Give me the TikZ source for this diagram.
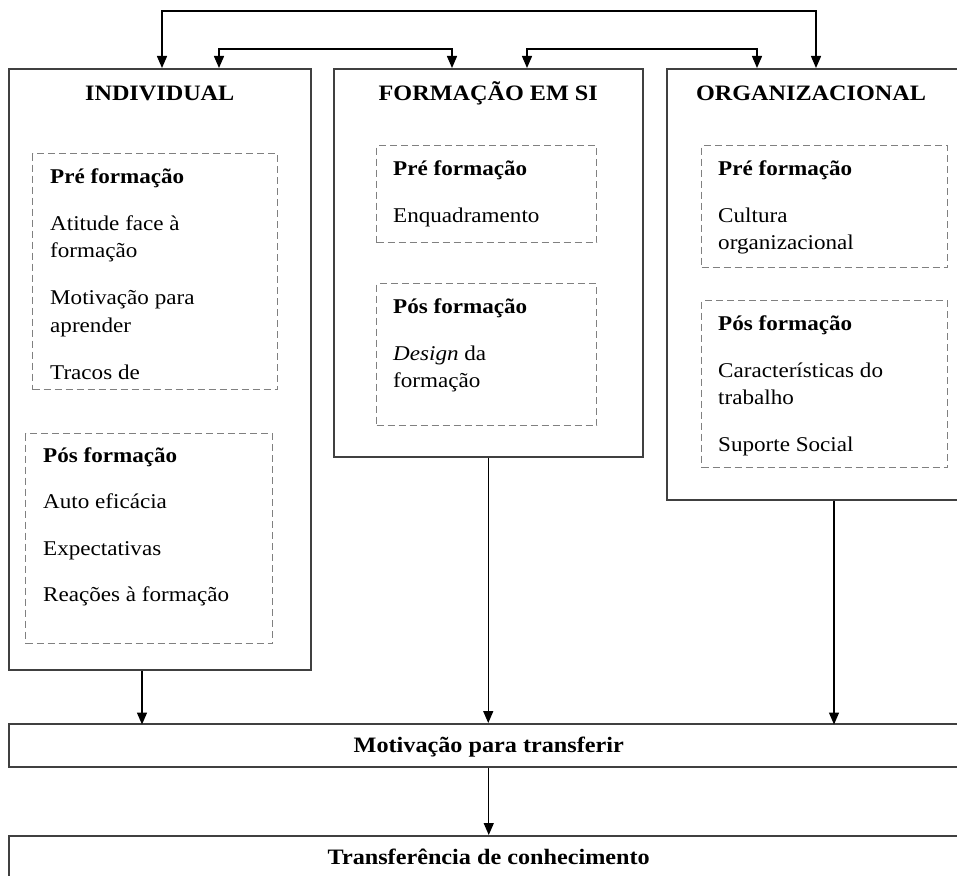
\documentclass[tikz,border=0pt]{standalone}
\usepackage{fontspec}
\setmainfont{Liberation Serif}[FakeStretch=1.1]
\usetikzlibrary{arrows.meta, calc, positioning}
\newcommand\bodysize{\fontsize{21}{27.5}\selectfont}
\newcommand\headsize{\fontsize{22}{26}\selectfont\bfseries}
\tikzset{
  outerbox/.style = {draw=black!75, line width=1.5pt, anchor=north west,
    inner sep=0pt},
  dashbox/.style = {draw=black!50, line width=1.2pt,
    dash pattern=on 7pt off 4pt, anchor=north west, inner sep=0pt},
  itemtext/.style = {anchor=north west, align=left, inner sep=0pt,
    font=\bodysize},
  headtext/.style = {anchor=base, inner sep=0pt, font=\headsize},
  barbox/.style = {outerbox, minimum width=960pt, minimum height=43pt,
    text height=14pt, text depth=0pt, font=\headsize},
  link/.style = {draw=black, line width=1.4pt, ->}
}
\begin{document}
\begin{tikzpicture}[x=1pt, y=-1pt, >={Triangle[length=12pt,width=10pt]}]
\useasboundingbox (0,0) rectangle (957,875);
% three groups of factors
\node[outerbox, minimum width=302pt, minimum height=601pt] (ind) at (8,68) {};
\node[outerbox, minimum width=309pt, minimum height=388pt] (form) at (333,68) {};
\node[outerbox, minimum width=300pt, minimum height=431pt] (org) at (666,68) {};
\node[headtext] (indhead) at ($(ind.north)+(0,32)$) {INDIVIDUAL};
\node[headtext] (formhead) at ($(form.north)+(0,32)$) {FORMAÇÃO EM SI};
\node[headtext] (orghead) at ($(org.north west)+(145,32)$) {ORGANIZACIONAL};

% individual
\node[dashbox, minimum width=245pt, minimum height=236pt] (indpre) at (32,153) {};
\node[itemtext] (indpretxt) at ($(indpre.north west)+(18,15.5)$)
  {\textbf{Pré formação}\\[19.5pt]
   Atitude face à\\ formação\\[19.5pt]
   Motivação para\\ aprender\\[19.5pt]
   Tracos de};
\node[dashbox, minimum width=247pt, minimum height=210pt] (indpos) at (25,433) {};
\node[itemtext] (indpostxt) at ($(indpos.north west)+(18,14.5)$)
  {\textbf{Pós formação}\\[19pt]
   Auto eficácia\\[19pt]
   Expectativas\\[19pt]
   Reações à formação};

% formacao em si
\node[dashbox, minimum width=220pt, minimum height=97pt] (formpre) at (376,145) {};
\node[itemtext] (formpretxt) at ($(formpre.north west)+(17,15.5)$)
  {\textbf{Pré formação}\\[19.5pt]
   Enquadramento};
\node[dashbox, minimum width=220pt, minimum height=142pt] (formpos) at (376,283) {};
\node[itemtext] (formpostxt) at ($(formpos.north west)+(17,15.5)$)
  {\textbf{Pós formação}\\[19.5pt]
   \textit{Design} da\\ formação};

% organizacional
\node[dashbox, minimum width=246pt, minimum height=122pt] (orgpre) at (701,145) {};
\node[itemtext] (orgpretxt) at ($(orgpre.north west)+(17,15.5)$)
  {\textbf{Pré formação}\\[19.5pt]
   Cultura\\ organizacional};
\node[dashbox, minimum width=246pt, minimum height=167pt] (orgpos) at (701,300) {};
\node[itemtext] (orgpostxt) at ($(orgpos.north west)+(17,15.5)$)
  {\textbf{Pós formação}\\[19.5pt]
   Características do\\ trabalho\\[19.5pt]
   Suporte Social};

% outcome bars
\node[barbox] (motiv) at (8,723) {Motivação para transferir};
\node[barbox] (transf) at (8,835) {Transferência de conhecimento};

% links between the groups
\draw[link, <->] ($(ind.north west)+(154,0)$) -- ++(0,-57)
  -| ($(org.north west)+(150,0)$);
\draw[link, <->] ($(ind.north west)+(211,0)$) -- ++(0,-19)
  -| ($(form.north west)+(119,0)$);
\draw[link, <->] ($(form.north west)+(194,0)$) -- ++(0,-19)
  -| ($(org.north west)+(91,0)$);

% links to the outcomes
\draw[link] ($(ind.south west)+(134,0)$) -- ++(0,54);
\draw[link] (form.south) -- (form.south |- motiv.north);
\draw[link] ($(org.south west)+(168,0)$) -- ++(0,224);
\draw[link] (motiv.south) -- (transf.north);
\end{tikzpicture}
\end{document}
